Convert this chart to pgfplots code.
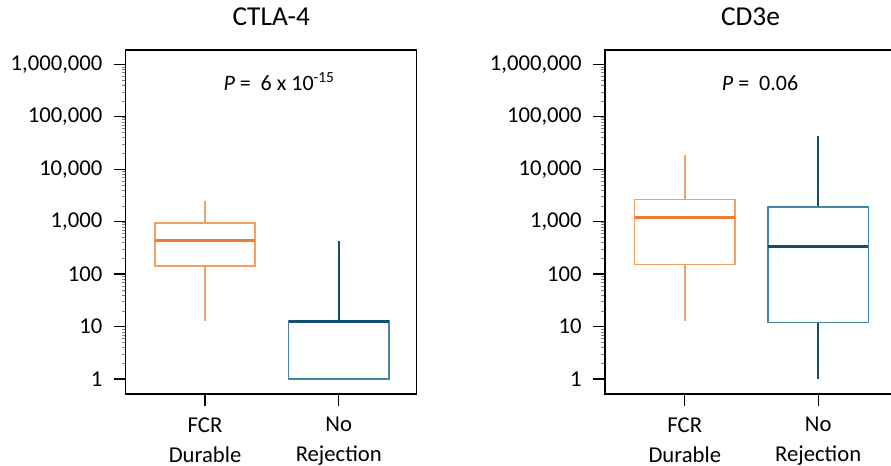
\documentclass[border=0pt]{standalone}
\usepackage{pgfplots}
\pgfplotsset{compat=1.18}
\usepgfplotslibrary{statistics}
\usepackage{fontspec}
\setmainfont{Carlito}
\definecolor{orL}{RGB}{242,160,100}
\definecolor{orD}{RGB}{237,125,49}
\definecolor{blL}{RGB}{72,132,165}
\definecolor{blD}{RGB}{18,78,112}
\begin{document}
\begin{tikzpicture}
\clip (0,0) rectangle (668.25pt,349.5pt);
\begin{axis}[at={(94.3pt,54pt)}, anchor=south west, xmin=0.407, title={CTLA-4},
  scale only axis, width=218.25pt, height=258pt,
  ymode=log, ymin=0.518, ymax=1.874e6,
  xmax=2.583,
  xtick={1,2}, xticklabels={{FCR\\Durable},{No\\Rejection}},
  ytick={1,10,100,1000,10000,100000,1000000},
  yticklabels={1,10,100,{1,000},{10,000},{100,000},{1,000,000}},
  tick align=outside, major tick length=9pt, xtick pos=bottom, ytick pos=left,
  minor tick num=0,
  axis line style={line width=1pt}, major tick style={line width=1pt, black},
  ticklabel style={font=\fontsize{17}{22.5}\selectfont},
  xticklabel style={align=center, yshift=-5pt},
  yticklabel style={xshift=-5pt},
  title style={at={(0.5,1)}, anchor=base, yshift=12pt, font=\fontsize{20.5}{24}\selectfont},
  boxplot/draw direction=y]
\addplot[draw=orL, line width=1.1pt, mark=none,
  boxplot/box extend=0.75, boxplot/whisker extend=0,
  boxplot/every median/.style={draw=orD, line width=2.2pt},
  boxplot prepared={median=435, upper quartile=950, lower quartile=143,
    upper whisker=2500, lower whisker=12.8, draw position=1}] coordinates {};
\addplot[draw=blL, line width=1.1pt, mark=none,
  boxplot/box extend=0.75, boxplot/whisker extend=0,
  boxplot/every median/.style={draw=blD, line width=2.2pt},
  boxplot/every whisker/.style={draw=blD},
  boxplot prepared={median=12.5, upper quartile=12.8, lower quartile=1,
    upper whisker=427, lower whisker=1, draw position=2}] coordinates {};
\node[anchor=base, font=\fontsize{16.5}{20}\selectfont] at (rel axis cs:0.527,0.882) {\textit{P} =\ \ 6 x 10\textsuperscript{-15}};
\end{axis}
\begin{axis}[at={(453.75pt,54pt)}, anchor=south west, xmin=0.402, title={CD3e},
  scale only axis, width=218.25pt, height=258pt,
  ymode=log, ymin=0.518, ymax=1.874e6,
  xmax=2.583,
  xtick={1,2}, xticklabels={{FCR\\Durable},{No\\Rejection}},
  ytick={1,10,100,1000,10000,100000,1000000},
  yticklabels={1,10,100,{1,000},{10,000},{100,000},{1,000,000}},
  tick align=outside, major tick length=9pt, xtick pos=bottom, ytick pos=left,
  minor tick num=0,
  axis line style={line width=1pt}, major tick style={line width=1pt, black},
  ticklabel style={font=\fontsize{17}{22.5}\selectfont},
  xticklabel style={align=center, yshift=-5pt},
  yticklabel style={xshift=-5pt},
  title style={at={(0.5,1)}, anchor=base, yshift=12pt, font=\fontsize{20.5}{24}\selectfont},
  boxplot/draw direction=y]
\addplot[draw=orL, line width=1.1pt, mark=none,
  boxplot/box extend=0.75, boxplot/whisker extend=0,
  boxplot/every median/.style={draw=orD, line width=2.2pt},
  boxplot prepared={median=1190, upper quartile=2620, lower quartile=154,
    upper whisker=18900, lower whisker=12.8, draw position=1}] coordinates {};
\addplot[draw=blL, line width=1.1pt, mark=none,
  boxplot/box extend=0.75, boxplot/whisker extend=0,
  boxplot/every median/.style={draw=blD, line width=2.2pt},
  boxplot/every whisker/.style={draw=blD},
  boxplot prepared={median=340, upper quartile=1900, lower quartile=12,
    upper whisker=43000, lower whisker=1, draw position=2}] coordinates {};
\node[anchor=base, font=\fontsize{16.5}{20}\selectfont] at (rel axis cs:0.533,0.882) {\textit{P} =\ \ 0.06};
\end{axis}
\end{tikzpicture}
\end{document}
